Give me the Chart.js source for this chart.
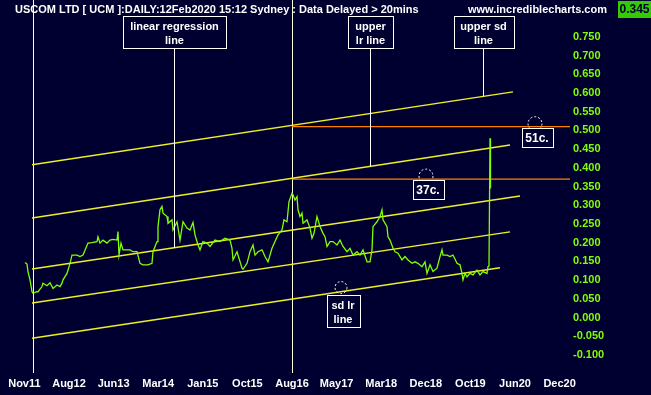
<!DOCTYPE html>
<html lang="en">
<head>
  <meta charset="UTF-8" />
  <title>USCOM LTD - UCM daily</title>
  <script src="https://cdn.jsdelivr.net/npm/chart.js"></script>
  <style>
    html, body { margin: 0; padding: 0; background: #000030; }
    #grafico { display: block; }
  </style>
</head>
<body>
  <canvas id="grafico" width="651" height="395"></canvas>

  <script>
    // bar position (time axis, bar index) and closing price
    const priceBar = [25,27,28,30,32,33,37,38,42,43,47,50,53,57,60,62,63,67,70,72,77,80,83,88,92,97,98,100,103,107,
      110,113,117,118,119,121,123,127,130,133,137,140,143,148,152,153,157,158,160,162,163,167,168,172,173,177,180,183,187,190,
      193,195,198,200,203,207,210,215,220,225,230,232,233,237,242,243,247,250,253,255,258,262,265,268,272,275,278,282,284,287,
      289,292,293,295,297,298,300,302,303,307,310,312,314,317,318,320,323,325,327,330,333,337,340,343,347,350,353,357,360,363,
      367,370,372,373,377,380,382,383,387,388,390,393,395,398,402,405,408,412,415,418,422,425,427,430,433,437,440,442,443,447,
      450,453,457,460,462,463,465,467,470,473,477,480,483,487,488,489,490,490.5];
    const priceClose = [0.147,0.143,0.123,0.101,0.069,0.065,0.069,0.069,0.083,0.092,0.085,0.093,0.078,0.087,0.083,0.092,0.101,0.118,0.145,0.167,
      0.167,0.163,0.167,0.199,0.200,0.203,0.216,0.199,0.207,0.199,0.207,0.209,0.207,0.230,0.167,0.199,0.181,0.181,0.181,0.176,
      0.176,0.145,0.141,0.141,0.145,0.176,0.203,0.243,0.288,0.297,0.279,0.270,0.252,0.261,0.234,0.256,0.207,0.256,0.239,0.234,
      0.254,0.221,0.194,0.181,0.203,0.199,0.190,0.207,0.203,0.212,0.207,0.185,0.154,0.176,0.132,0.129,0.145,0.176,0.194,0.167,
      0.176,0.181,0.163,0.149,0.185,0.203,0.221,0.234,0.261,0.256,0.310,0.332,0.328,0.314,0.323,0.288,0.270,0.279,0.252,0.261,
      0.239,0.212,0.225,0.270,0.261,0.243,0.225,0.216,0.190,0.203,0.203,0.194,0.207,0.190,0.176,0.185,0.167,0.176,0.167,0.181,
      0.149,0.149,0.181,0.243,0.256,0.270,0.288,0.261,0.243,0.216,0.207,0.185,0.176,0.172,0.154,0.163,0.154,0.145,0.149,0.145,
      0.136,0.149,0.118,0.141,0.123,0.132,0.163,0.181,0.167,0.167,0.163,0.167,0.145,0.141,0.118,0.101,0.118,0.109,0.118,0.114,
      0.127,0.114,0.123,0.118,0.136,0.138,0.479,0.345];
    const lastPrice = 0.345;

    const tickBar = [24.4, 69, 113.6, 158.2, 202.8, 247.4, 292, 336.6, 381.2, 425.8, 470.4, 515, 559.6];
    const tickLabels = ["Nov11", "Aug12", "Jun13", "Mar14", "Jan15", "Oct15", "Aug16", "May17", "Mar18", "Dec18", "Oct19", "Jun20", "Dec20"];
    const yTicks = [-0.1, -0.05, 0, 0.05, 0.1, 0.15, 0.2, 0.25, 0.3, 0.35, 0.4, 0.45, 0.5, 0.55, 0.6, 0.65, 0.7, 0.75];

    // regression channel: 0 upper sd, 1 upper lr, 2 linear regression, 3 lower lr, 4 sd lr
    const channelStartBar = [32, 32, 32, 32, 32];
    const channelEndBar = [513, 510, 520, 510, 500];
    const channelStart = [0.408, 0.266, 0.130, 0.039, -0.055];
    const channelEnd = [0.603, 0.461, 0.325, 0.229, 0.133];

    // horizontal price levels
    const levelValues = [0.51, 0.37];
    const levelLabels = ["51c.", "37c."];
    const levelLabelBar = [537, 428];
    const levelStartBar = 292;

    // vertical cursor lines
    const markerBars = [33, 292];

    // callouts pointing at channel lines
    const callouts = [
      { text: ["linear regression", "line"], bar: 174, line: 2 },
      { text: ["upper", "lr line"], bar: 370, line: 1 },
      { text: ["upper sd", "line"], bar: 483, line: 0 }
    ];
    const lowerCallout = { text: ["sd lr", "line"], bar: 342, line: 4 };

    const FONT = "'Liberation Sans', Arial, sans-serif";
    const FUNDO = "#000030";

    function valorCanal(i, bar) {
      const t = (bar - channelStartBar[i]) / (channelEndBar[i] - channelStartBar[i]);
      return channelStart[i] + t * (channelEnd[i] - channelStart[i]);
    }

    const datasets = [];
    datasets.push({
      data: priceBar.map((b, i) => ({ x: b, y: priceClose[i] })),
      borderColor: "#80ff00",
      borderWidth: 1.3
    });
    channelStart.forEach((v, i) => {
      datasets.push({
        data: [{ x: channelStartBar[i], y: v }, { x: channelEndBar[i], y: channelEnd[i] }],
        borderColor: "#eeee28",
        borderWidth: 1.5
      });
    });
    levelValues.forEach(v => {
      datasets.push({
        data: [{ x: levelStartBar, y: v }, { x: 570, y: v }],
        borderColor: "#ff8000",
        borderWidth: 1.3
      });
    });
    datasets.forEach(d => {
      d.showLine = true;
      d.pointRadius = 0;
      d.tension = 0;
    });

    function caixa(ctx, cx, top, linhas, size, pad) {
      ctx.font = `bold ${size}px ${FONT}`;
      const w = Math.round(Math.max(...linhas.map(l => ctx.measureText(l).width)) + pad * 2);
      const h = linhas.length * (size + 3) + 4;
      const left = Math.round(cx - w / 2) + 0.5;
      ctx.fillStyle = FUNDO;
      ctx.fillRect(left, top, w, h);
      ctx.strokeStyle = "#ffffff";
      ctx.lineWidth = 1;
      ctx.strokeRect(left, top, w, h);
      ctx.fillStyle = "#ffffff";
      ctx.textAlign = "center";
      ctx.textBaseline = "middle";
      linhas.forEach((l, i) => ctx.fillText(l, cx, top + 2 + (size + 3) * (i + 0.5) + 1));
      return h;
    }

    function circuloTracejado(ctx, cx, cy, r) {
      ctx.save();
      ctx.strokeStyle = "#ffffff";
      ctx.lineWidth = 1;
      ctx.setLineDash([2, 2]);
      ctx.beginPath();
      ctx.arc(cx, cy, r, 0, Math.PI * 2);
      ctx.stroke();
      ctx.restore();
    }

    const marcadores = {
      id: "marcadores",
      beforeDatasetsDraw(chart) {
        const { ctx, chartArea, scales } = chart;
        ctx.save();
        ctx.strokeStyle = "#ffffd8";
        ctx.lineWidth = 1;
        markerBars.forEach(b => {
          const x = Math.round(scales.x.getPixelForValue(b)) + 0.5;
          ctx.beginPath();
          ctx.moveTo(x, 0);
          ctx.lineTo(x, chartArea.bottom + 3);
          ctx.stroke();
        });
        ctx.restore();
      },
      afterDatasetsDraw(chart) {
        const { ctx, scales } = chart;
        ctx.save();
        // callouts in the top margin
        callouts.forEach(c => {
          const x = Math.round(scales.x.getPixelForValue(c.bar)) + 0.5;
          const yLinha = scales.y.getPixelForValue(valorCanal(c.line, c.bar));
          const top = 16.5;
          const h = caixa(ctx, x, top, c.text, 11, 7);
          ctx.strokeStyle = "#ffffff";
          ctx.beginPath();
          ctx.moveTo(x, top + h);
          ctx.lineTo(x, yLinha);
          ctx.stroke();
        });
        // callout under the sd lr line
        {
          const c = lowerCallout;
          const x = scales.x.getPixelForValue(c.bar);
          const yLinha = scales.y.getPixelForValue(valorCanal(c.line, c.bar));
          circuloTracejado(ctx, x - 1, yLinha - 4, 6);
          caixa(ctx, x + 1, Math.round(yLinha) + 3.5, c.text, 11, 5);
        }
        // price level labels
        levelValues.forEach((v, i) => {
          const x = scales.x.getPixelForValue(levelLabelBar[i]);
          const yl = scales.y.getPixelForValue(v);
          circuloTracejado(ctx, x - 2, yl - 3, 7);
          caixa(ctx, x, Math.round(yl) + 1.5, [levelLabels[i]], 12, 4);
        });
        ctx.restore();
      },
      afterDraw(chart) {
        const { ctx } = chart;
        ctx.save();
        ctx.textBaseline = "middle";
        ctx.textAlign = "left";
        ctx.fillStyle = "#ffffff";
        ctx.font = `bold 11px ${FONT}`;
        ctx.fillText("USCOM LTD [ UCM ]:DAILY:12Feb2020 15:12 Sydney : Data Delayed > 20mins", 15, 10);
        ctx.fillText("www.incrediblecharts.com", 468, 10);
        ctx.fillStyle = "#33cc00";
        ctx.fillRect(618, 1, 33, 17);
        ctx.fillStyle = "#000030";
        ctx.textAlign = "center";
        ctx.font = `bold 12px ${FONT}`;
        ctx.fillText(lastPrice.toFixed(3), 634.5, 10);
        ctx.restore();
      }
    };

    new Chart(document.getElementById("grafico"), {
      type: "scatter",
      data: { datasets },
      options: {
        responsive: false,
        animation: false,
        devicePixelRatio: 1,
        layout: { padding: { top: 20, left: 0, right: 0, bottom: 0 } },
        plugins: {
          legend: { display: false },
          tooltip: { enabled: false }
        },
        scales: {
          x: {
            type: "linear",
            min: 0,
            max: 570,
            grid: { display: false, drawTicks: false },
            border: { display: false },
            afterBuildTicks: s => { s.ticks = tickBar.map(v => ({ value: v })); },
            afterFit: s => { s.height = 25; },
            ticks: {
              autoSkip: false,
              maxRotation: 0,
              padding: 7,
              color: "#ffffff",
              font: { family: FONT, weight: "bold", size: 11 },
              callback: v => tickLabels[tickBar.indexOf(v)]
            }
          },
          y: {
            position: "right",
            min: -0.14,
            max: 0.795,
            grid: { display: false, drawTicks: false },
            border: { display: false },
            afterBuildTicks: s => { s.ticks = yTicks.map(v => ({ value: v })); },
            afterFit: s => { s.width = 81; },
            ticks: {
              padding: 3,
              color: "#80ff00",
              font: { family: FONT, weight: "bold", size: 11 },
              callback: v => v.toFixed(3)
            }
          }
        }
      },
      plugins: [marcadores]
    });
  </script>
</body>
</html>
